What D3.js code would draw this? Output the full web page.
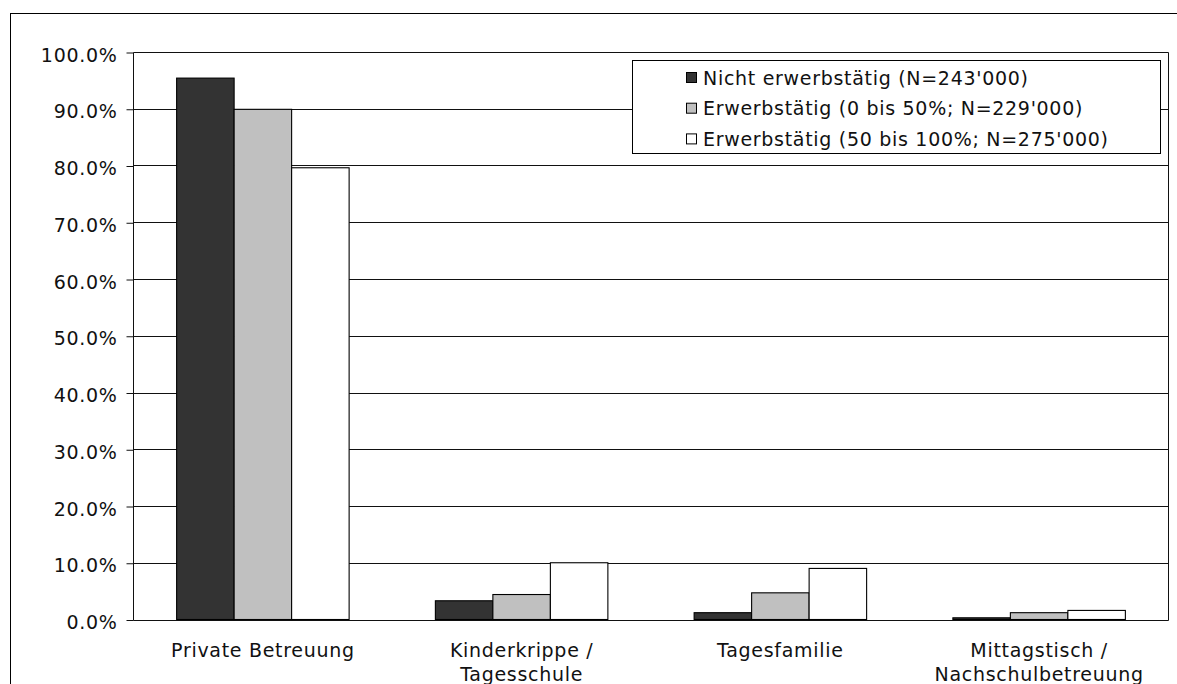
<!DOCTYPE html>
<html>
<head>
<meta charset="utf-8">
<script src="https://cdn.jsdelivr.net/npm/d3@7"></script>
<style>
  html, body { margin: 0; padding: 0; background: #fff; }
  svg { display: block; }
  text { font-family: "DejaVu Sans", Verdana, sans-serif; font-size: 19px; letter-spacing: 0.7px; fill: #111; }
</style>
</head>
<body>
<svg id="chart" width="1177" height="684"></svg>
<script>
// ---- data ----
const categories = [["Private Betreuung"], ["Kinderkrippe /", "Tagesschule"], ["Tagesfamilie"], ["Mittagstisch /", "Nachschulbetreuung"]];
const seriesNames = ["Nicht erwerbstätig (N=243'000)", "Erwerbstätig (0 bis 50%; N=229'000)", "Erwerbstätig (50 bis 100%; N=275'000)"];
const nichtErwerbstaetig = [95.4, 3.3, 1.2, 0.3];
const erwerbstaetig0bis50 = [89.9, 4.4, 4.7, 1.2];
const erwerbstaetig50bis100 = [79.6, 10.0, 9.0, 1.6];
const yTicks = [0, 10, 20, 30, 40, 50, 60, 70, 80, 90, 100];
const seriesColors = ["#333333", "#c0c0c0", "#ffffff"];

const seriesValues = [nichtErwerbstaetig, erwerbstaetig0bis50, erwerbstaetig50bis100];
const catKeys = categories.map(c => c.join(" "));

const svg = d3.select("#chart");
const plot = { left: 133.5, right: 1168.5, top: 52, bottom: 619.5 };

// outer frame
svg.append("rect")
  .attr("x", 10.5).attr("y", 13.5)
  .attr("width", 1200).attr("height", 700)
  .attr("fill", "none").attr("stroke", "#000").attr("stroke-width", 1);

const x0 = d3.scaleBand().domain(catKeys).range([plot.left, plot.right]).paddingInner(0).paddingOuter(0);
const x1 = d3.scaleBand().domain(d3.range(seriesNames.length)).range([0, x0.bandwidth()]).paddingInner(0).paddingOuter(0.75);
const y = d3.scaleLinear().domain([0, 100]).range([plot.bottom, plot.top]);

// gridlines
svg.append("g").selectAll("line").data(yTicks).join("line")
  .attr("x1", plot.left).attr("x2", plot.right)
  .attr("y1", d => Math.round(y(d)) + 0.5).attr("y2", d => Math.round(y(d)) + 0.5)
  .attr("stroke", "#111").attr("stroke-width", 1);

// right border of plot
svg.append("line")
  .attr("x1", plot.right).attr("x2", plot.right)
  .attr("y1", Math.round(y(100)) + 0.5).attr("y2", Math.round(y(0)) + 0.5)
  .attr("stroke", "#111");

// bars
const groups = svg.append("g").selectAll("g").data(catKeys).join("g")
  .attr("transform", d => `translate(${x0(d)},0)`);
groups.selectAll("rect").data((d, i) => seriesValues.map((s, j) => ({ j, v: s[i] }))).join("rect")
  .attr("x", d => x1(d.j))
  .attr("y", d => y(d.v))
  .attr("width", x1.bandwidth())
  .attr("height", d => y(0) - y(d.v))
  .attr("fill", d => seriesColors[d.j])
  .attr("stroke", "#000").attr("stroke-width", 1.1);

// y axis
const yAxis = d3.axisLeft(y).tickValues(yTicks).tickSize(7).tickPadding(9)
  .tickFormat(d => d3.format(".1f")(d) + "%");
const ya = svg.append("g").attr("transform", `translate(${plot.left},0.5)`).call(yAxis);
ya.select(".domain").attr("stroke", "#111").attr("d", `M0,${Math.round(y(100))}V${Math.round(y(0))}`);
ya.selectAll(".tick line").attr("stroke", "#111");
ya.selectAll(".tick text")
  .attr("font-family", "DejaVu Sans").attr("font-size", 19).attr("fill", "#111")
  .attr("dy", "0.45em").attr("x", -16);

// category labels
const catLabels = svg.append("g").selectAll("text").data(categories).join("text")
  .attr("text-anchor", "middle")
  .attr("x", (d, i) => x0(catKeys[i]) + x0.bandwidth() / 2)
  .attr("y", 657);
catLabels.selectAll("tspan").data(d => d).join("tspan")
  .attr("x", function () { return d3.select(this.parentNode).attr("x"); })
  .attr("dy", (d, i) => i === 0 ? 0 : 23.5)
  .text(d => d);

// legend
const lg = { x: 632.5, y: 60.5, w: 528, h: 93 };
const legend = svg.append("g");
legend.append("rect").attr("x", lg.x).attr("y", lg.y).attr("width", lg.w).attr("height", lg.h)
  .attr("fill", "#fff").attr("stroke", "#000").attr("stroke-width", 1);
const items = legend.selectAll("g").data(seriesNames).join("g")
  .attr("transform", (d, i) => `translate(0,${77.5 + i * 30.7})`);
items.append("rect").attr("x", 686.5).attr("y", -5).attr("width", 10).attr("height", 10)
  .attr("fill", (d, i) => seriesColors[i]).attr("stroke", "#000").attr("stroke-width", 1);
items.append("text").attr("x", 703).attr("y", 7).text(d => d);
</script>
</body>
</html>
